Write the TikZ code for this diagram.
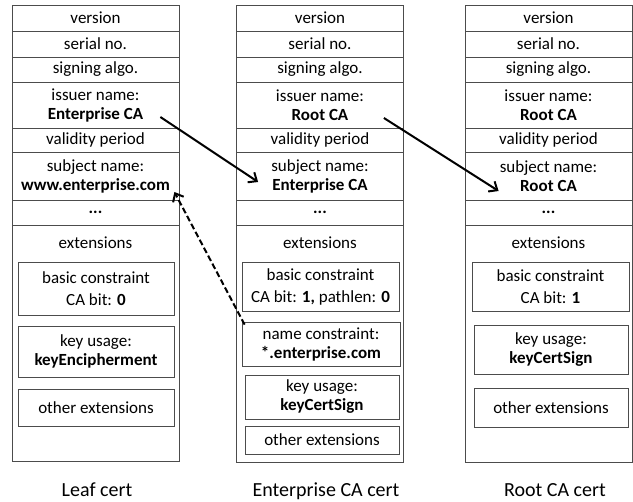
\documentclass[tikz,border=0pt]{standalone}
\usepackage{fontspec}
\setmainfont{Carlito}
\usetikzlibrary{arrows.meta}
\begin{document}
\begin{tikzpicture}[x=1pt,y=-1pt,
    txt/.style={font=\fontsize{17}{19}\selectfont},
    field/.style={txt, draw=black!70, line width=0.8pt, minimum width=167pt, inner sep=0pt, align=center},
    ext/.style={field, minimum width=156pt},
    link/.style={line width=2pt, -{Straight Barb[length=7pt,width=12pt]}},
    caption/.style={font=\fontsize{20}{22}\selectfont, anchor=base, inner sep=0pt}]
  \useasboundingbox (0,0) rectangle (633,502);
  % leaf cert
  \node[field, minimum height=26pt] (lver) at (95.5,18) {version};
  \node[field, minimum height=26pt] (lser) at (95.5,44) {serial no.};
  \node[field, minimum height=25pt] (lsig) at (95.5,69.5) {signing algo.};
  \node[field, minimum height=46pt] (liss) at (95.5,105) {issuer name:\\\textbf{Enterprise CA}};
  \node[field, minimum height=24pt] (lval) at (95.5,140) {validity period};
  \node[field, minimum height=48pt] (lsub) at (95.5,176) {subject name:\\\textbf{www.enterprise.com}};
  \node[field, minimum height=25pt] (ldot) at (95.5,212.5) {\textbf{...}};
  \node[field, minimum height=236pt] (lext) at (95.5,343) {};
  \node[txt] (lextl) at (95.5,243) {extensions};
  \node[ext, minimum height=53pt] (lbc) at (96,288.5) {basic constraint\\[3pt]CA bit: \textbf{0}};
  \node[ext, minimum height=51pt] (lku) at (96,351.5) {key usage:\\\textbf{keyEncipherment}};
  \node[ext, minimum height=37pt] (loth) at (96,407.5) {other extensions};
  \node[caption] (lcap) at (97,497) {Leaf cert};
  % enterprise CA cert
  \node[field, minimum height=26pt] (ever) at (320,18) {version};
  \node[field, minimum height=26pt] (eser) at (320,44) {serial no.};
  \node[field, minimum height=25pt] (esig) at (320,69.5) {signing algo.};
  \node[field, minimum height=46pt] (eiss) at (320,105) {issuer name:\\\textbf{Root CA}};
  \node[field, minimum height=24pt] (eval) at (320,140) {validity period};
  \node[field, minimum height=48pt] (esub) at (320,176) {subject name:\\\textbf{Enterprise CA}};
  \node[field, minimum height=25pt] (edot) at (320,212.5) {\textbf{...}};
  \node[field, minimum height=237pt] (eext) at (320,343.5) {};
  \node[txt] (eextl) at (320,243) {extensions};
  \node[ext, minimum width=157pt, minimum height=49pt] (ebc) at (320.5,286.5) {basic constraint\\[3pt]CA bit: \textbf{1,} pathlen: \textbf{0}};
  \node[ext, minimum width=158pt, minimum height=44pt] (enc) at (321,344) {name constraint:\\\textbf{*.enterprise.com}};
  \node[ext, minimum width=154pt, minimum height=44pt] (eku) at (322,397) {key usage:\\\textbf{keyCertSign}};
  \node[ext, minimum width=154pt, minimum height=28pt] (eoth) at (322,440) {other extensions};
  \node[caption] (ecap) at (326,497) {Enterprise CA cert};
  % root CA cert
  \node[field, minimum height=26pt] (rver) at (548.5,18) {version};
  \node[field, minimum height=26pt] (rser) at (548.5,44) {serial no.};
  \node[field, minimum height=25pt] (rsig) at (548.5,69.5) {signing algo.};
  \node[field, minimum height=46pt] (riss) at (548.5,105) {issuer name:\\\textbf{Root CA}};
  \node[field, minimum height=24pt] (rval) at (548.5,140) {validity period};
  \node[field, minimum height=48pt] (rsub) at (548.5,176) {subject name:\\\textbf{Root CA}};
  \node[field, minimum height=25pt] (rdot) at (548.5,212.5) {\textbf{...}};
  \node[field, minimum height=237pt] (rext) at (548.5,343.5) {};
  \node[txt] (rextl) at (548.5,243) {extensions};
  \node[ext, minimum width=157pt, minimum height=49pt] (rbc) at (550.5,286.5) {basic constraint\\[3pt]CA bit: \textbf{1}};
  \node[ext, minimum width=154pt, minimum height=49pt] (rku) at (551,349.5) {key usage:\\\textbf{keyCertSign}};
  \node[ext, minimum width=154pt, minimum height=39pt] (roth) at (551,407.5) {other extensions};
  \node[caption] (rcap) at (555,497) {Root CA cert};
  % issuer -> subject links
  \draw[link] ([shift={(-19,12)}]liss.east) -- ([shift={(22,6)}]esub.west);
  \draw[link] ([shift={(-20,13)}]eiss.east) -- ([shift={(34,15)}]rsub.west);
  \draw[link, dash pattern=on 6pt off 3pt] ([shift={(3,3)}]enc.north west) -- ([shift={(-5,16)}]lsub.east);
\end{tikzpicture}
\end{document}
